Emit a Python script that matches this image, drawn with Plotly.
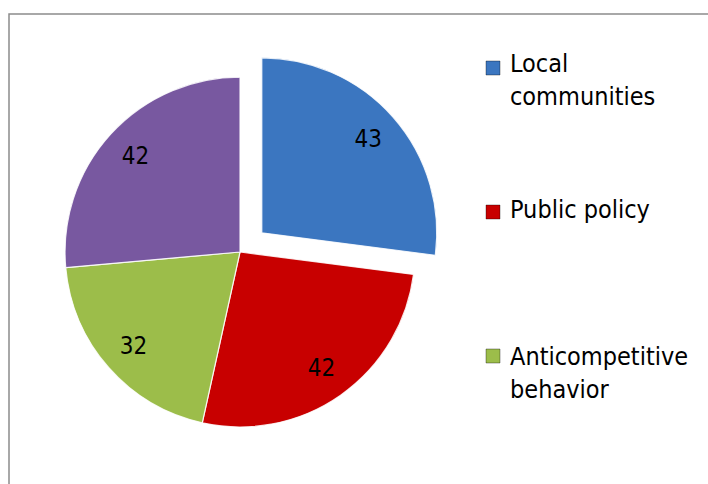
import plotly.graph_objects as go

# Indicator counts by aspect
categories = ["Local communities", "Public policy", "Anticompetitive behavior", "Compliance"]
values = [43, 42, 32, 42]
colors = ["#3B76C0", "#C80000", "#9CBD4A", "#7858A0"]
pulls = [0.166, 0, 0, 0]

# Legend shows the first three aspects
legend_names = ["Local<br>communities", "Public policy", "Anticompetitive<br>behavior"]

W, H = 708, 484
FONT = "DejaVu Sans Condensed, DejaVu Sans, sans-serif"

def px_x(x):
    return x / W

def px_y(y):
    return 1 - y / H

# pie domain in pixels (centre 240,252)
dom_x = [px_x(36), px_x(444)]
dom_y = [px_y(456), px_y(48)]

fig = go.Figure()

# solid slices
fig.add_trace(go.Pie(
    labels=categories, values=values, sort=False, direction="clockwise",
    rotation=0, pull=pulls,
    marker=dict(colors=colors, line=dict(color="rgba(255,255,255,0.85)", width=1.2)),
    textinfo="none", hoverinfo="label+value", showlegend=False,
    domain=dict(x=dom_x, y=dom_y),
))

# value labels placed in an outer ring of the same pie
fig.add_trace(go.Pie(
    labels=categories, values=values, sort=False, direction="clockwise",
    rotation=0, pull=pulls, hole=0.62,
    marker=dict(colors=["rgba(0,0,0,0)"] * len(values), line=dict(width=0)),
    textinfo="value", textposition="inside", insidetextorientation="horizontal",
    textfont=dict(family=FONT, size=24, color="#000000"),
    hoverinfo="skip", showlegend=False,
    domain=dict(x=dom_x, y=dom_y),
))

shapes = [
    # chart frame
    dict(type="rect", xref="paper", yref="paper",
         x0=px_x(9), x1=1.2, y0=-0.2, y1=px_y(14),
         line=dict(color="#8C8C8C", width=1.5), fillcolor="rgba(0,0,0,0)", layer="below"),
]

annotations = []
legend_tops = [47, 193, 340]
square_tops = [61, 205, 349]
for name, color, ty, sy in zip(legend_names, colors, legend_tops, square_tops):
    shapes.append(dict(type="rect", xref="paper", yref="paper",
                       x0=px_x(486), x1=px_x(500), y0=px_y(sy + 14), y1=px_y(sy),
                       fillcolor=color, line=dict(color="rgba(0,0,0,0.35)", width=1)))
    annotations.append(dict(text=name, xref="paper", yref="paper",
                            x=px_x(508), y=px_y(ty), xanchor="left", yanchor="top",
                            align="left", showarrow=False,
                            font=dict(family=FONT, size=25, color="#000000")))

fig.update_layout(
    width=W, height=H,
    margin=dict(l=0, r=0, t=0, b=0),
    paper_bgcolor="#FFFFFF", plot_bgcolor="#FFFFFF",
    shapes=shapes, annotations=annotations,
    showlegend=False,
)

fig.write_html("out.html")
